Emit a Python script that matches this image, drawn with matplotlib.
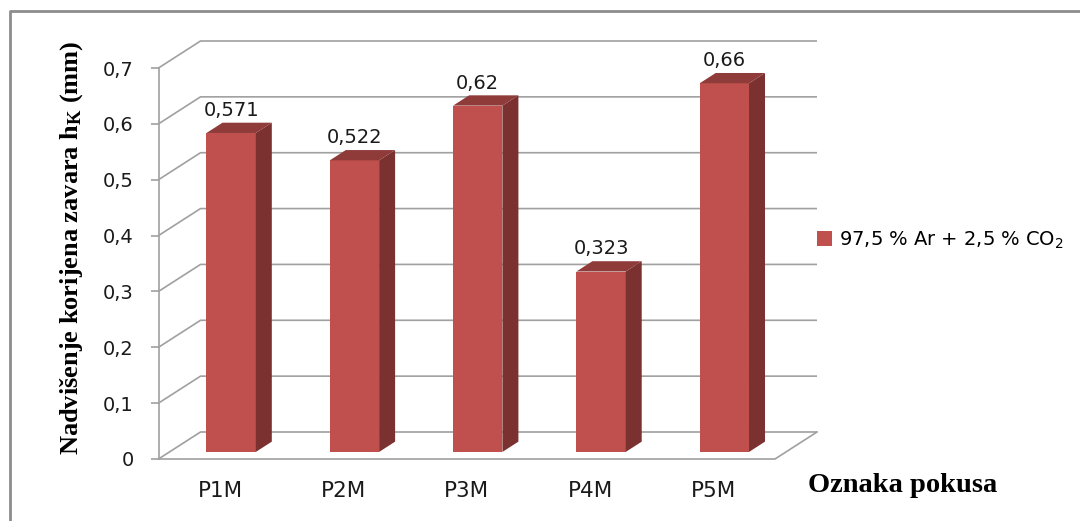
import matplotlib
matplotlib.use("Agg")
import matplotlib.pyplot as plt
from matplotlib.patches import Polygon, Patch
from matplotlib.lines import Line2D
import numpy as np

# ---- data ----
categories = ["P1M", "P2M", "P3M", "P4M", "P5M"]
values = [0.571, 0.522, 0.62, 0.323, 0.66]
series_name = "97,5 % Ar + 2,5 % CO$\\mathregular{_2}$"
y_ticks = [0, 0.1, 0.2, 0.3, 0.4, 0.5, 0.6, 0.7]
y_tick_labels = ["0", "0,1", "0,2", "0,3", "0,4", "0,5", "0,6", "0,7"]
y_label = "Nadvišenje korijena zavara h$\\mathregular{_K}$ (mm)"
x_label = "Oznaka pokusa"

# ---- style ----
FRONT = "#C0504D"
SIDE = "#7A3130"
TOP = "#8E3B39"
GRID = "#A0A0A0"
BORDER = "#8C8C8C"
SANS = "DejaVu Sans"
SERIF = "Liberation Serif"

W, H = 1080, 521
fig = plt.figure(figsize=(W / 100, H / 100), dpi=100)
fig.patch.set_facecolor("white")

ax_l, ax_r, ax_t, ax_b = 158.5, 775.0, 68.0, 459.0
ax = fig.add_axes([ax_l / W, 1 - ax_b / H, (ax_r - ax_l) / W, (ax_b - ax_t) / H])
n = len(categories)
ax.set_xlim(-0.5, n - 0.5)
ax.set_ylim(0, 0.7)
ax.set_facecolor("none")

ppx = (ax_r - ax_l) / n
ppy = (ax_b - ax_t) / 0.7
WX, WY = 42 / ppx, 27 / ppy  # depth of the wall in data units
FD, BD = 11 / 42, 27 / 42     # bar front / back depth fractions
bw = 0.4

def pt(x, y, d):
    return (x + d * WX, y + d * WY)

# gridlines (side wall + back wall)
x0, x1 = -0.5, n - 0.5
for v in y_ticks:
    ax.plot([x0, x0 + WX, x1 + WX], [v, v + WY, v + WY], color=GRID, lw=1.2,
            clip_on=False, zorder=1, solid_capstyle="butt")
# floor front + right edge
ax.plot([x0, x1, x1 + WX], [0, 0, WY], color=GRID, lw=1.2, clip_on=False, zorder=1)

# bars
xs = np.arange(n)
ax.bar(xs + FD * WX, values, bw, bottom=FD * WY, color=FRONT, zorder=3, clip_on=False)
for x, v in zip(xs, values):
    side = [pt(x + bw / 2, 0, FD), pt(x + bw / 2, v, FD), pt(x + bw / 2, v, BD), pt(x + bw / 2, 0, BD)]
    top = [pt(x - bw / 2, v, FD), pt(x + bw / 2, v, FD), pt(x + bw / 2, v, BD), pt(x - bw / 2, v, BD)]
    ax.add_patch(Polygon(side, closed=True, facecolor=SIDE, edgecolor="none", zorder=3, clip_on=False))
    ax.add_patch(Polygon(top, closed=True, facecolor=TOP, edgecolor="none", zorder=3, clip_on=False))
    lbl = f"{v:g}".replace(".", ",")
    ax.annotate(lbl, xy=(x + FD * WX, v + BD * WY), xytext=(0, 2), textcoords="offset points",
                ha="center", va="bottom", fontsize=14, family=SANS, color="#1a1a1a",
                annotation_clip=False)

# axes styling
for s in ["top", "right", "bottom"]:
    ax.spines[s].set_visible(False)
ax.spines["left"].set_color(GRID)
ax.spines["left"].set_linewidth(1.2)
ax.set_yticks(y_ticks)
ax.set_yticklabels(y_tick_labels, fontsize=14, family=SANS, color="#1a1a1a")
ax.tick_params(axis="y", direction="out", length=5.8, width=1.2, color=GRID, pad=12)
ax.set_xticks(xs)
ax.set_xticklabels(categories, fontsize=15.5, family=SANS, color="#1a1a1a")
ax.tick_params(axis="x", length=0, pad=16)

# axis titles
fig.text(72 / W, 1 - 248 / H, y_label, rotation=90, ha="center", va="center",
         fontsize=19, family=SERIF, weight="bold", color="black")
fig.text(808 / W, 1 - 485 / H, x_label, ha="left", va="center",
         fontsize=20.5, family=SERIF, weight="bold", color="black")

# legend
fig.legend(handles=[Patch(facecolor=FRONT, edgecolor="none")], labels=[series_name],
           loc="center left", bbox_to_anchor=(817 / W, 1 - 240 / H), frameon=False,
           prop={"family": SANS, "size": 14}, handlelength=0.75, handleheight=0.75,
           handletextpad=0.4, borderpad=0, borderaxespad=0)

# outer border (left and top visible)
fig.add_artist(Line2D([10 / W, 10 / W, 1], [0, 1 - 11 / H, 1 - 11 / H],
                      transform=fig.transFigure, color=BORDER, lw=2))

fig.savefig("out.png", dpi=100)
